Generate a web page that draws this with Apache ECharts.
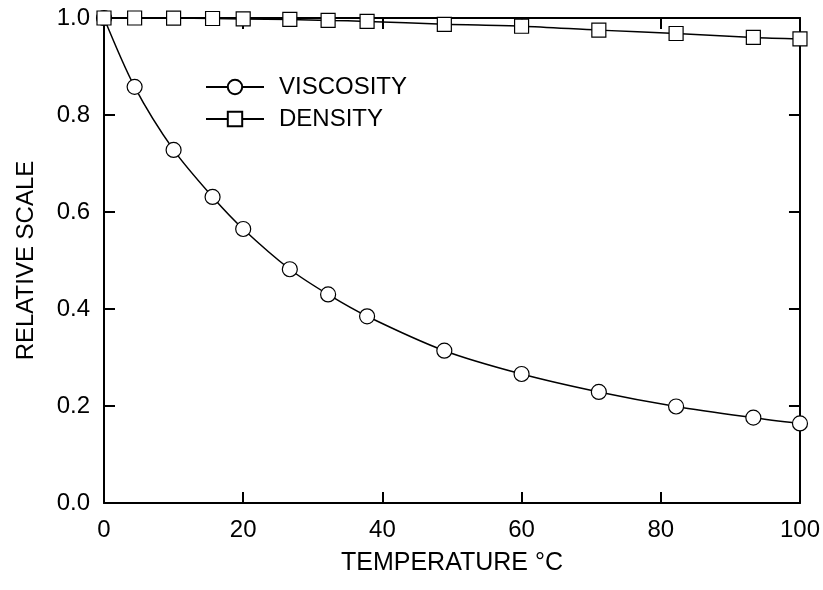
<!DOCTYPE html>
<html>
<head>
<meta charset="utf-8">
<script src="https://cdn.jsdelivr.net/npm/echarts@6/dist/echarts.min.js"></script>
<style>
  html, body { margin: 0; padding: 0; background: #fff; }
  #main { width: 823px; height: 590px; }
</style>
</head>
<body>
<div id="main"></div>
<script>
// temperatures in °C (32..212 °F)
const temps = [0, 4.4, 10, 15.6, 20, 26.7, 32.2, 37.8, 48.9, 60, 71.1, 82.2, 93.3, 100];
const viscosity = [1.0, 0.858, 0.728, 0.631, 0.565, 0.482, 0.430, 0.385, 0.314, 0.266, 0.229, 0.199, 0.176, 0.164];
const density = [1.0, 1.0, 0.9997, 0.999, 0.998, 0.997, 0.995, 0.993, 0.987, 0.983, 0.975, 0.968, 0.960, 0.957];
const seriesNames = ['VISCOSITY', 'DENSITY'];

let chartDom = document.getElementById('main');
let myChart = echarts.init(chartDom);

const font = 'Liberation Sans, Arial, sans-serif';
const fs = 24;
const axisLine = { show: true, onZero: false, lineStyle: { color: '#000', width: 2 } };
const tick = { show: true, inside: true, length: 11, lineStyle: { color: '#000', width: 2 } };

let option = {
    animation: false,
    backgroundColor: '#fff',
    textStyle: { fontFamily: font },
    grid: { left: 104, right: 22, top: 18, bottom: 87 },
    legend: {
        orient: 'vertical',
        left: 205,
        top: 75,
        padding: 0,
        itemWidth: 58,
        itemHeight: 18,
        itemGap: 8,
        data: seriesNames,
        textStyle: { fontSize: fs, color: '#000', fontFamily: font, padding: [0, 0, 0, 10] }
    },
    xAxis: [{
        type: 'value',
        min: 0, max: 100, interval: 20,
        position: 'bottom',
        name: 'TEMPERATURE °C',
        nameLocation: 'middle',
        nameGap: 48,
        nameTextStyle: { fontSize: 25, color: '#000' },
        axisLine: axisLine,
        axisTick: tick,
        axisLabel: { fontSize: fs, color: '#000', margin: 15 },
        splitLine: { show: false }
    }, {
        type: 'value',
        min: 0, max: 100, interval: 20,
        position: 'top',
        axisLine: axisLine,
        axisTick: tick,
        axisLabel: { show: false },
        splitLine: { show: false }
    }],
    yAxis: [{
        type: 'value',
        min: 0, max: 1, interval: 0.2,
        position: 'left',
        name: 'RELATIVE SCALE',
        nameLocation: 'middle',
        nameGap: 66,
        nameTextStyle: { fontSize: fs, color: '#000' },
        axisLine: axisLine,
        axisTick: tick,
        axisLabel: { fontSize: fs, color: '#000', margin: 14, formatter: v => v.toFixed(1) },
        splitLine: { show: false }
    }, {
        type: 'value',
        min: 0, max: 1, interval: 0.2,
        position: 'right',
        axisLine: axisLine,
        axisTick: tick,
        axisLabel: { show: false },
        splitLine: { show: false }
    }],
    series: [{
        name: seriesNames[0],
        type: 'line',
        data: temps.map((t, i) => [t, viscosity[i]]),
        smooth: 0.3,
        symbol: 'circle',
        symbolSize: 15,
        showAllSymbol: true,
        lineStyle: { color: '#000', width: 1.5 },
        itemStyle: { color: '#fff', borderColor: '#000', borderWidth: 1.2 },
        z: 3
    }, {
        name: seriesNames[1],
        type: 'line',
        data: temps.map((t, i) => [t, density[i]]),
        smooth: 0.3,
        symbol: 'rect',
        symbolSize: 14,
        showAllSymbol: true,
        lineStyle: { color: '#000', width: 1.5 },
        itemStyle: { color: '#fff', borderColor: '#000', borderWidth: 1.2 },
        z: 3
    }]
};

option && myChart.setOption(option);
</script>
</body>
</html>
